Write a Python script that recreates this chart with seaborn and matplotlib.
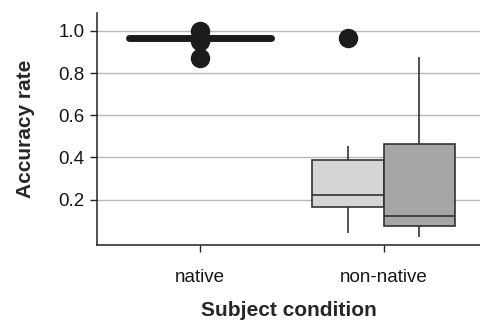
import matplotlib
matplotlib.use("Agg")
import matplotlib.pyplot as plt
import seaborn as sns
import pandas as pd

# Accuracy rates per subject, by condition and task group
native_acc = [0.87, 0.95, 0.968, 0.968, 0.968, 0.968, 0.968, 0.968, 1.0]
nonnative_a_acc = [0.044, 0.10, 0.163, 0.20, 0.223, 0.30, 0.389, 0.455, 0.967]
nonnative_b_acc = [0.022, 0.05, 0.073, 0.10, 0.122, 0.30, 0.463, 0.70, 0.877]

conditions = ["native", "non-native"]
groups = ["A", "B"]
group_colors = ["#d4d5d7", "#a5a6aa"]
y_ticks = [0.2, 0.4, 0.6, 0.8, 1.0]

native_df = pd.DataFrame({"condition": "native", "accuracy": native_acc})
nonnative_df = pd.DataFrame({
    "condition": "non-native",
    "group": ["A"] * len(nonnative_a_acc) + ["B"] * len(nonnative_b_acc),
    "accuracy": nonnative_a_acc + nonnative_b_acc,
})

sns.set_style("ticks")
plt.rcParams["font.family"] = ["Liberation Sans", "DejaVu Sans"]

fig = plt.figure(figsize=(4.81, 3.21), dpi=100)
ax = fig.add_axes([0.2017, 0.2368, 0.7983, 0.7227])

edge = "#333333"
flier = dict(marker="o", markerfacecolor="#1c1c1c", markeredgecolor="#1c1c1c",
             markersize=13)

sns.boxplot(data=native_df, x="condition", y="accuracy", order=conditions,
            width=0.77, color="white", linecolor=edge, linewidth=1.0,
            showcaps=False, flierprops=flier,
            medianprops=dict(color="#1c1c1c", linewidth=5, solid_capstyle="round"),
            ax=ax)

sns.boxplot(data=nonnative_df, x="condition", y="accuracy", hue="group",
            order=conditions, hue_order=groups, palette=group_colors,
            width=0.78, gap=0, linecolor=edge, linewidth=1.2,
            showcaps=False, flierprops=flier,
            medianprops=dict(color=edge, linewidth=1.2),
            legend=False, ax=ax)

ax.set_xlim(-0.56, 1.53)
ax.set_ylim(-0.015, 1.085)
ax.set_yticks(y_ticks)
ax.set_yticklabels([f"{v:.1f}" for v in y_ticks])
ax.yaxis.grid(True, color="#b8b8b8", linewidth=1.0)
ax.set_axisbelow(True)

for s in ["top", "right"]:
    ax.spines[s].set_visible(False)
for s in ["left", "bottom"]:
    ax.spines[s].set_color("#222222")
    ax.spines[s].set_linewidth(1.1)
ax.tick_params(axis="both", direction="out", length=5, width=1.0,
               color="#222222", labelsize=13.5, labelcolor="#161616", pad=4)
ax.tick_params(axis="x", pad=12)

ax.set_xlabel("Subject condition", fontsize=15, fontweight="bold", labelpad=11)
ax.set_ylabel("Accuracy rate", fontsize=15, fontweight="bold", labelpad=17)

fig.savefig("out.png", dpi=100)
